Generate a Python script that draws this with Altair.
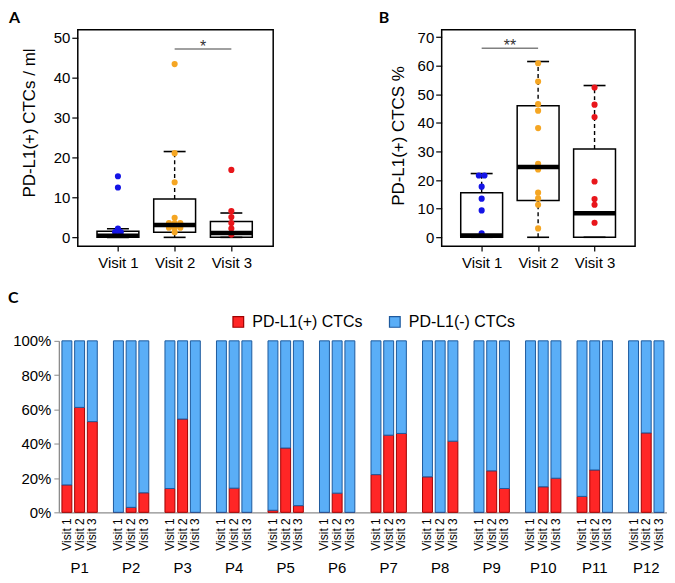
import altair as alt
import pandas as pd

visit_names = ["Visit 1", "Visit 2", "Visit 3"]
visit_colors = ["#1414E6", "#F5A623", "#E8161B"]

# ---- Panel A: PD-L1(+) CTCs / ml ----
a_points_v1 = [15.3, 12.5, 2.2, 1.3, 1.3]
a_points_v2 = [43.4, 21.1, 13.8, 4.9, 3.6, 3.6, 3.6, 2.4, 2.4, 2.4, 1.3]
a_points_v3 = [16.9, 6.6, 5.1, 3.6, 2.2, 0.7]
a_lower = [0, 0, 0]
a_q1 = [0, 1.3, 0]
a_median = [0.4, 3.1, 1.1]
a_q3 = [1.5, 9.6, 4.0]
a_upper = [2.15, 21.5, 6.1]
a_sig = {"from": 2, "to": 3, "y": 47.2, "label": "*"}

# ---- Panel B: PD-L1(+) CTCs % ----
b_points_v1 = [21.6, 21.6, 17.7, 13.5, 9.4, 1.4]
b_points_v2 = [60.9, 54.5, 46.6, 44.3, 38.2, 25.7, 23.7, 15.6, 13.6, 11.4, 3.1]
b_points_v3 = [52.4, 46.4, 42.1, 19.5, 13.4, 11.4, 5.1]
b_lower = [0, 0, 0]
b_q1 = [0, 12.9, 0]
b_median = [0.6, 24.6, 8.4]
b_q3 = [15.6, 46.0, 30.9]
b_upper = [22.3, 61.5, 53.1]
b_sig = {"from": 1, "to": 2, "y": 66.1, "label": "**"}

# ---- Panel C: PD-L1(+) share per patient and visit ----
patients = ["P1", "P2", "P3", "P4", "P5", "P6", "P7", "P8", "P9", "P10", "P11", "P12"]
pos_pct = [
    [16.0, 61.2, 52.9],
    [0.0, 2.9, 11.4],
    [13.9, 54.4, 0.0],
    [0.0, 14.1, 0.0],
    [1.2, 37.5, 3.9],
    [0.0, 11.2, 0.0],
    [22.0, 45.0, 46.0],
    [20.7, 0.0, 41.5],
    [0.0, 24.2, 13.9],
    [0.0, 14.9, 19.9],
    [9.3, 24.7, 0.0],
    [0.0, 46.3, 0.0],
]
pct_ticks = [0, 20, 40, 60, 80, 100]
types = ["PD-L1(+) CTCs", "PD-L1(-) CTCs"]
type_fill = ["#FF2626", "#5AAEF7"]
type_stroke = ["#A00000", "#1E5A9E"]

FONT = "Liberation Sans"


def box_panel(points, lower, q1, med, q3, upper, ydomain, yticks, ytitle,
              title_x, title_y, sig, letter, letter_dx, width, xdomain):
    stats = pd.DataFrame({"visit": [1, 2, 3], "lower": lower, "q1": q1,
                          "median": med, "q3": q3, "upper": upper,
                          "name": visit_names})
    rows = []
    for i, vals in enumerate(points):
        counts = {}
        for v in vals:
            counts[v] = counts.get(v, 0) + 1
        seen = {}
        for v in vals:
            k = seen.get(v, 0)
            seen[v] = k + 1
            jit = (k - (counts[v] - 1) / 2) * 0.1
            rows.append({"visit": i + 1, "xpos": i + 1 + jit, "value": v,
                         "name": visit_names[i]})
    pts = pd.DataFrame(rows)
    sig_df = pd.DataFrame({"x1": [sig["from"]], "x2": [sig["to"]],
                           "y": [sig["y"]], "xm": [(sig["from"] + sig["to"]) / 2],
                           "label": [sig["label"]]})

    xs = alt.Scale(domain=xdomain, nice=False, zero=False)
    ys = alt.Scale(domain=ydomain, nice=False, zero=False)
    xa = alt.Axis(values=[1, 2, 3], labelExpr="'Visit ' + datum.value",
                  domain=False, ticks=True, tickSize=5, tickColor="black",
                  tickWidth=1.2, labelFontSize=15, labelPadding=4, grid=False,
                  title=None, labelColor="black", labelFont=FONT)
    ya = alt.Axis(values=yticks, domain=False, ticks=True, tickSize=6,
                  tickColor="black", tickWidth=1.2, labelFontSize=15,
                  labelPadding=2, grid=False, title=ytitle, titleFontSize=17,
                  titleFontWeight="normal", titleX=title_x, titleY=title_y,
                  titleAngle=270, titleBaseline="middle", titleAlign="center",
                  titleColor="black", labelColor="black", labelFont=FONT,
                  titleFont=FONT, labelOverlap=False)

    def X(f):
        return alt.X(f, type="quantitative", scale=xs, axis=xa)

    def Y(f):
        return alt.Y(f, type="quantitative", scale=ys, axis=ya)

    base_s = alt.Chart(stats)
    box = base_s.mark_bar(size=42, fill="white", stroke="black",
                          strokeWidth=1.5).encode(x=X("visit"), y=Y("q1"), y2="q3")
    wh_up = base_s.mark_rule(strokeDash=[4, 3], strokeWidth=1.4,
                             color="black").encode(x=X("visit"), y=Y("q3"), y2="upper")
    wh_lo = base_s.mark_rule(strokeDash=[4, 3], strokeWidth=1.4,
                             color="black").encode(x=X("visit"), y=Y("lower"), y2="q1")
    cap_up = base_s.mark_tick(orient="horizontal", size=22, thickness=1.6,
                              color="black", opacity=1).encode(x=X("visit"), y=Y("upper"))
    cap_lo = base_s.mark_tick(orient="horizontal", size=22, thickness=1.6,
                              color="black", opacity=1).encode(x=X("visit"), y=Y("lower"))
    dots = alt.Chart(pts).mark_circle(size=38, opacity=1).encode(
        x=X("xpos"), y=Y("value"),
        color=alt.Color("name:N", scale=alt.Scale(domain=visit_names,
                                                  range=visit_colors), legend=None))
    medl = base_s.mark_tick(orient="horizontal", size=42, thickness=4.5,
                            color="black", opacity=1).encode(x=X("visit"), y=Y("median"))
    sig_line = alt.Chart(sig_df).mark_rule(color="#808080", strokeWidth=1.5).encode(
        x=X("x1"), x2="x2", y=Y("y"))
    sig_txt = alt.Chart(sig_df).mark_text(fontSize=16, baseline="alphabetic",
                                          dy=3, color="#333333", font=FONT).encode(
        x=X("xm"), y=Y("y"), text="label:N")
    return alt.layer(box, wh_up, wh_lo, cap_up, cap_lo, dots, medl, sig_line,
                     sig_txt).properties(
        width=width, height=217,
        view=alt.ViewBackground(stroke="black", strokeWidth=1.5),
        title=alt.TitleParams(letter, anchor="start", frame="group", dx=letter_dx,
                              fontSize=16, font="Lato", fontWeight="bold",
                              offset=4, color="black"))


panel_a = box_panel([a_points_v1, a_points_v2, a_points_v3], a_lower, a_q1,
                    a_median, a_q3, a_upper, [-2.2, 52.0], [0, 10, 20, 30, 40, 50],
                    "PD-L1(+) CTCs / ml", -48, 93, a_sig, "A", -69, 196,
                    [0.38, 3.65])
panel_b = box_panel([b_points_v1, b_points_v2, b_points_v3], b_lower, b_q1,
                    b_median, b_q3, b_upper, [-3.1, 72.6],
                    [0, 10, 20, 30, 40, 50, 60, 70],
                    "PD-L1(+) CTCS %", -43, 106, b_sig, "B", -63, 194,
                    [0.38, 3.63])

# ---- Panel C data table ----
crow = []
for p, vals in zip(patients, pos_pct):
    for v, val in zip(visit_names, vals):
        crow.append({"patient": p, "visit": v, "type": types[0], "value": val, "ord": 0})
        crow.append({"patient": p, "visit": v, "type": types[1], "value": 100 - val, "ord": 1})
cdf = pd.DataFrame(crow)
lab_df = pd.DataFrame([{"patient": p, "visit": v, "base": 0}
                       for p in patients for v in visit_names])

cxs = alt.Scale(paddingInner=0.314, paddingOuter=0.06)
cxa = alt.Axis(title=None, labelAngle=0, labelFontSize=15, labelPadding=48,
               ticks=False, domainColor="#8c8c8c", domainWidth=1.3,
               labelColor="black", labelFont=FONT)
cxos = alt.Scale(paddingInner=0.22, paddingOuter=0)
cys = alt.Scale(domain=[0, 100], nice=False, zero=True)
cya = alt.Axis(values=pct_ticks, labelExpr="datum.value + '%'", title=None,
               grid=False, domainColor="#8c8c8c", tickColor="#8c8c8c", tickSize=5,
               labelFontSize=15, labelPadding=3, labelColor="black",
               labelFont=FONT, domainWidth=1.3, labelOverlap=False)
leg = alt.Legend(orient="none", legendX=172, legendY=-27, direction="horizontal",
                 title=None, symbolType="square", symbolSize=115,
                 labelFontSize=16, labelFont=FONT, labelColor="black",
                 columnPadding=24, labelOffset=6, symbolStrokeWidth=1.2)
bars = alt.Chart(cdf).mark_bar(strokeWidth=1, opacity=1).encode(
    x=alt.X("patient:N", sort=patients, scale=cxs, axis=cxa),
    xOffset=alt.XOffset("visit:N", sort=visit_names, scale=cxos),
    y=alt.Y("value:Q", stack="zero", scale=cys, axis=cya),
    color=alt.Color("type:N", scale=alt.Scale(domain=types, range=type_fill), legend=leg),
    stroke=alt.Stroke("type:N", scale=alt.Scale(domain=types, range=type_stroke), legend=leg),
    order=alt.Order("ord:Q"),
)
vlabels = alt.Chart(lab_df).mark_text(angle=270, align="right", baseline="middle",
                                      fontSize=12, dx=-6, color="black",
                                      font=FONT).encode(
    x=alt.X("patient:N", sort=patients, scale=cxs, axis=cxa),
    xOffset=alt.XOffset("visit:N", sort=visit_names, scale=cxos),
    y=alt.Y("base:Q", scale=cys, axis=cya),
    text="visit:N")
panel_c = alt.layer(bars, vlabels).properties(
    width=610, height=172,
    title=alt.TitleParams("C", anchor="start", frame="group", dx=-51, fontSize=16,
                          font="Lato", fontWeight="bold", offset=8, color="black"))

spacer_df = pd.DataFrame({"s": [0]})


def spacer(w):
    return alt.Chart(spacer_df).mark_point(opacity=0).encode(
        x=alt.X("s:Q", axis=None), y=alt.Y("s:Q", axis=None)).properties(
        width=w, height=217, view=alt.ViewBackground(stroke=None))


row1 = alt.hconcat(spacer(19), panel_a, spacer(169), panel_b, spacing=0,
                   bounds="flush")
chart = alt.vconcat(row1, panel_c, spacing=19).resolve_scale(
    color="independent", stroke="independent").properties(
    padding=0).configure(font=FONT).configure_view(stroke=None)

chart.save("out.html", embed_options={"renderer": "svg", "actions": False})
